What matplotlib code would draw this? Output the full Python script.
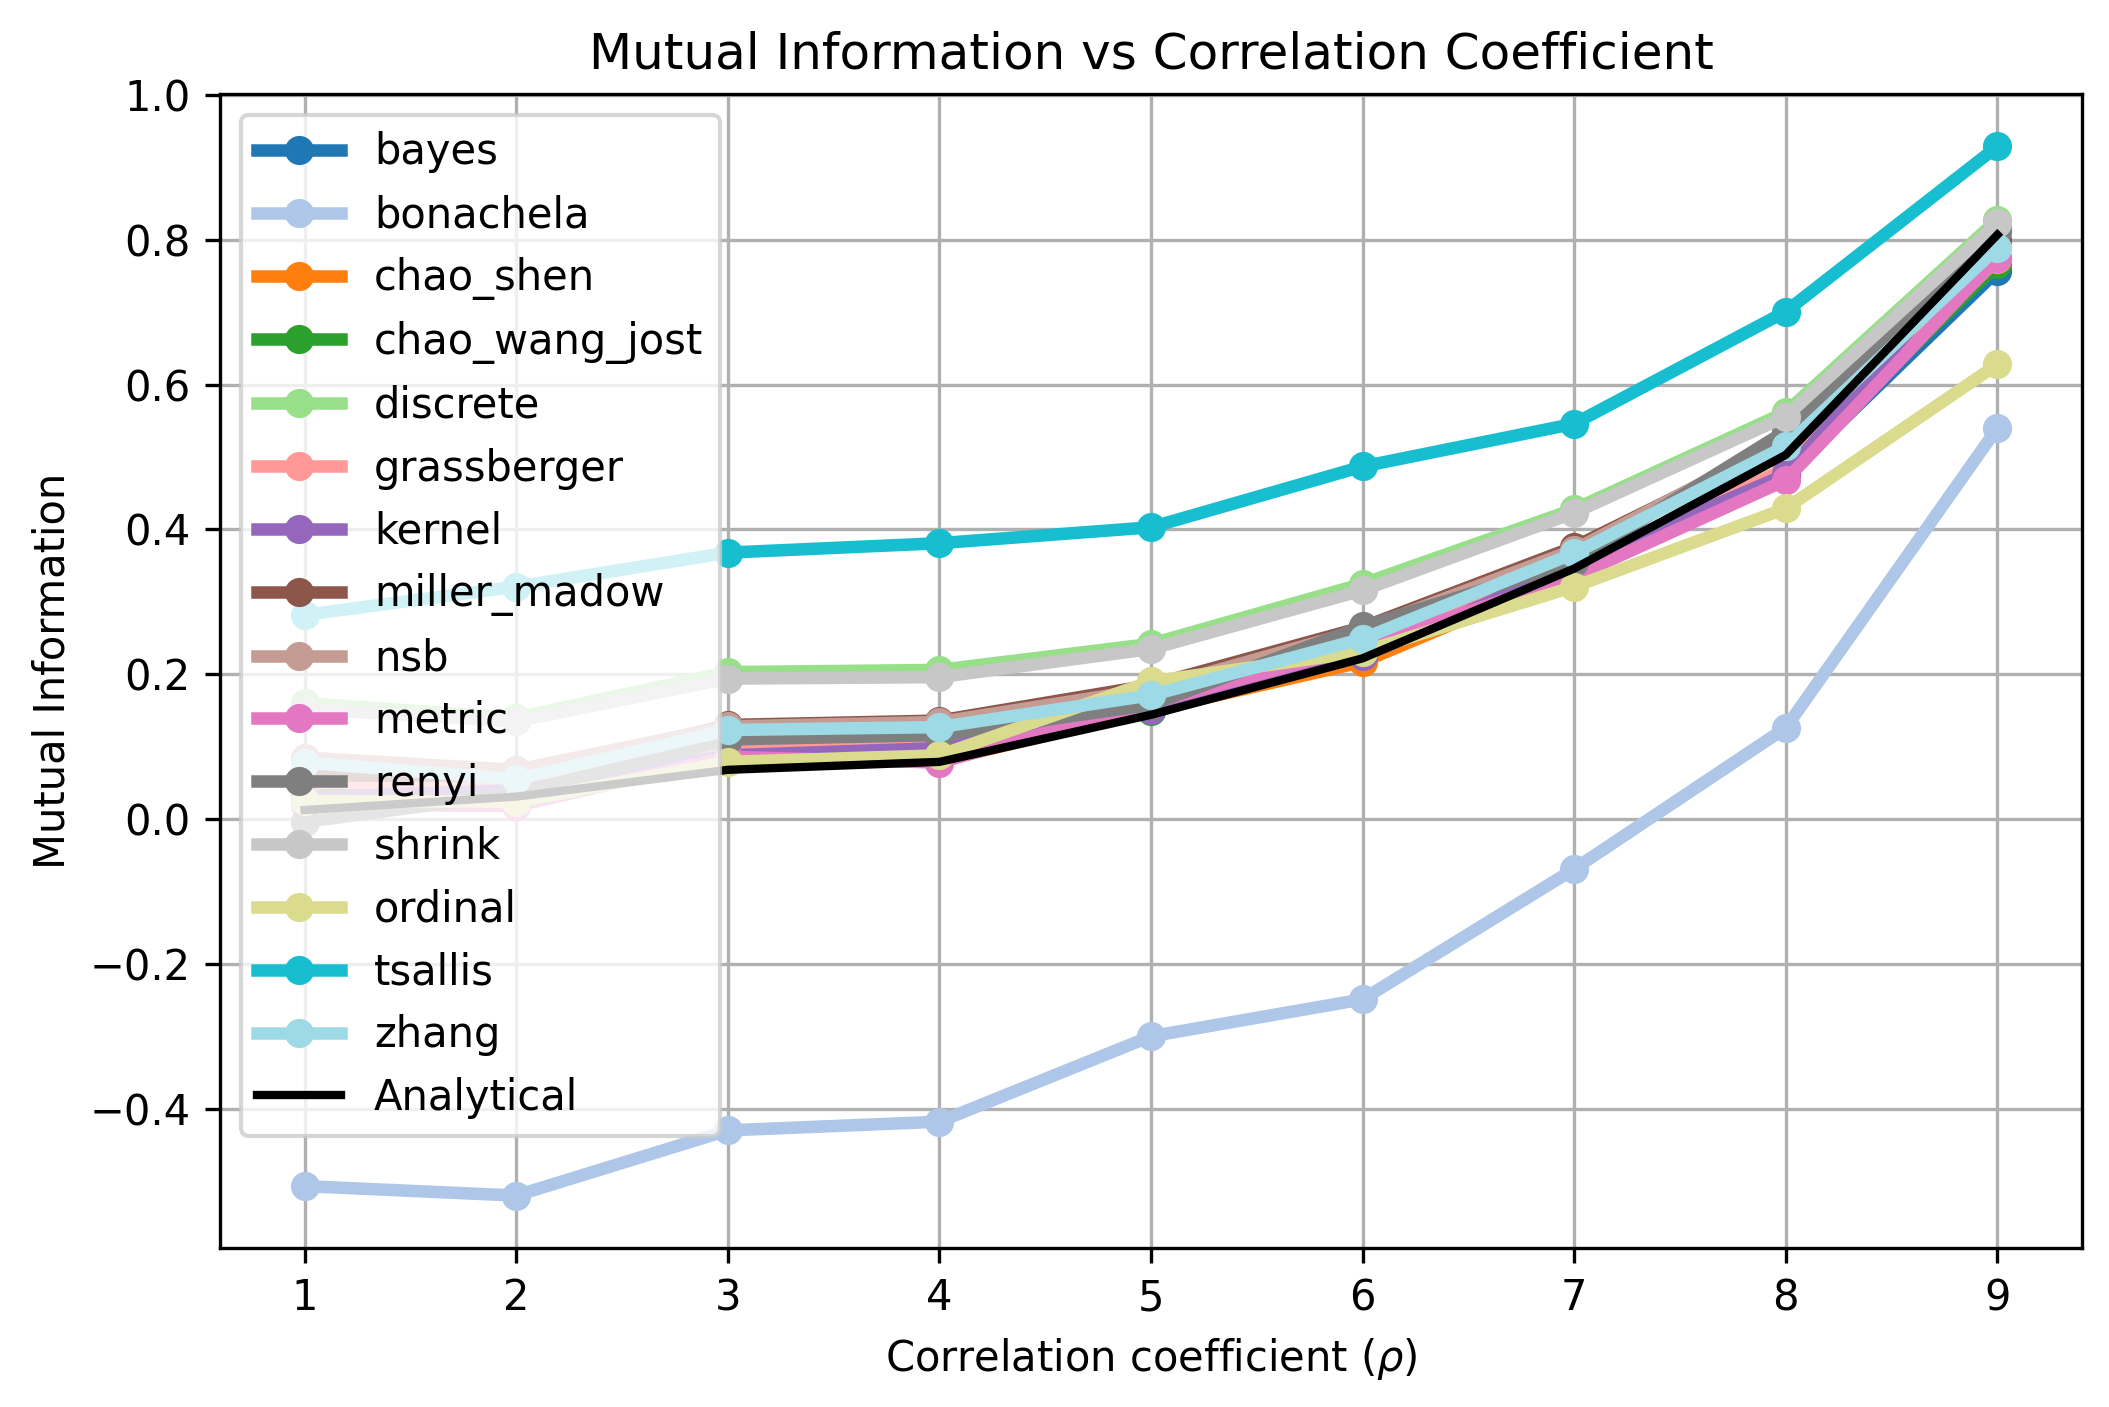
import numpy as np
import matplotlib
matplotlib.use("Agg")
import matplotlib.pyplot as plt

rho = [1, 2, 3, 4, 5, 6, 7, 8, 9]

estimators = ["bayes", "bonachela", "chao_shen", "chao_wang_jost", "discrete",
              "grassberger", "kernel", "miller_madow", "nsb", "metric", "renyi",
              "shrink", "ordinal", "tsallis", "zhang"]

bayes = [0.040, 0.045, 0.092, 0.100, 0.150, 0.222, 0.345, 0.475, 0.757]
bonachela = [-0.507, -0.520, -0.430, -0.418, -0.300, -0.249, -0.069, 0.126, 0.540]
chao_shen = [0.040, 0.045, 0.090, 0.080, 0.150, 0.217, 0.340, 0.476, 0.775]
chao_wang_jost = [0.035, 0.045, 0.093, 0.102, 0.149, 0.226, 0.345, 0.480, 0.766]
discrete = [0.160, 0.140, 0.203, 0.206, 0.242, 0.325, 0.428, 0.562, 0.828]
grassberger = [0.050, 0.050, 0.100, 0.112, 0.160, 0.236, 0.348, 0.484, 0.773]
kernel = [0.030, 0.040, 0.088, 0.098, 0.150, 0.225, 0.350, 0.476, 0.815]
miller_madow = [0.060, 0.060, 0.130, 0.136, 0.185, 0.265, 0.376, 0.520, 0.800]
nsb = [0.085, 0.068, 0.128, 0.134, 0.180, 0.262, 0.372, 0.525, 0.812]
metric = [0.020, 0.018, 0.086, 0.078, 0.160, 0.238, 0.335, 0.468, 0.775]
renyi = [-0.004, 0.035, 0.110, 0.116, 0.158, 0.266, 0.355, 0.536, 0.812]
shrink = [0.152, 0.135, 0.194, 0.196, 0.235, 0.316, 0.423, 0.556, 0.823]
ordinal = [0.025, 0.024, 0.079, 0.088, 0.190, 0.231, 0.321, 0.429, 0.628]
tsallis = [0.282, 0.321, 0.368, 0.381, 0.403, 0.487, 0.546, 0.701, 0.929]
zhang = [0.078, 0.055, 0.123, 0.127, 0.171, 0.249, 0.367, 0.515, 0.789]
analytical = [0.0125, 0.031, 0.068, 0.079, 0.144, 0.222, 0.346, 0.503, 0.807]

values = [bayes, bonachela, chao_shen, chao_wang_jost, discrete, grassberger,
          kernel, miller_madow, nsb, metric, renyi, shrink, ordinal, tsallis, zhang]

colors = plt.cm.tab20(np.linspace(0, 1, len(estimators)))

fig = plt.figure(figsize=(7.03, 4.69), dpi=300)
ax = fig.add_subplot(111)
fig.subplots_adjust(left=0.1043, right=0.9872, top=0.9332, bottom=0.113)

for name, vals, c in zip(estimators, values, colors):
    ax.plot(rho, vals, marker="o", linewidth=3, color=c, label=name)
ax.plot(rho, analytical, color="black", linewidth=2, label="Analytical")

ax.set_title("Mutual Information vs Correlation Coefficient")
ax.set_xlabel(r"Correlation coefficient ($\rho$)")
ax.set_ylabel("Mutual Information")
ax.grid()
ax.legend(loc="upper left")
fig.savefig("out.png", dpi=300)
